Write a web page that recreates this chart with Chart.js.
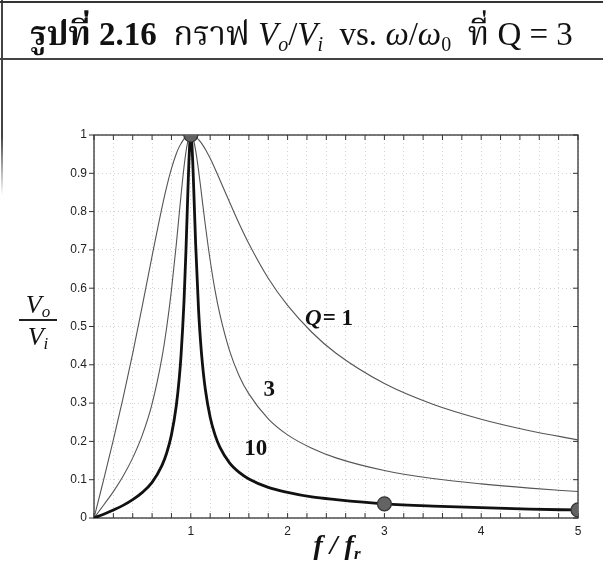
<!DOCTYPE html>
<html>
<head>
<meta charset="utf-8">
<script src="https://cdn.jsdelivr.net/npm/chart.js@4.4.1/dist/chart.umd.min.js"></script>
<style>
  html, body { margin: 0; padding: 0; background: #fff; }
  #page { position: relative; width: 603px; height: 565px; overflow: hidden; background: #fff; }
  #chart { position: absolute; left: 0; top: 0; }
  #title {
    position: absolute; left: 0; top: 1px; width: 603px; height: 55px;
    border-top: 2px solid #333; border-bottom: 2px solid #444;
    font-family: "Liberation Serif", "Noto Serif Thai", "Noto Sans Thai", serif;
    font-size: 33px; color: #111; text-align: center; line-height: 62px; white-space: nowrap;
  }
  #title sub { font-size: 20px; vertical-align: -6px; line-height: 0; }
  #leftRule { position: absolute; left: 1px; top: 0; width: 2px; height: 195px; background: linear-gradient(#444, #444 70%, rgba(80,80,80,0)); }
  #ylab {
    position: absolute; left: 17px; top: 291px; width: 42px; text-align: center;
    font-family: "Liberation Serif", serif; font-style: italic; font-size: 26px; color: #111; line-height: 27px;
  }
  #ylab .bar { height: 1.5px; background: #222; margin: 1px 2px 2px 2px; }
  #ylab sub { font-size: 17px; vertical-align: -4px; line-height: 0; }
  #xlab {
    position: absolute; left: 287px; top: 529px; width: 100px; text-align: center;
    font-family: "Liberation Serif", serif; font-style: italic; font-weight: bold; font-size: 28px; color: #111;
  }
  #xlab sub { font-size: 17px; vertical-align: -5px; line-height: 0; }
</style>
</head>
<body>
<div id="page">
  <canvas id="chart" width="603" height="565"></canvas>
  <div id="leftRule"></div>
  <div id="title"><b>รูปที่ 2.16</b>&nbsp; กราฟ <i>V<sub>o</sub></i>/<i>V<sub>i</sub></i>&nbsp; vs. <i>ω</i>/<i>ω</i><sub>0</sub>&nbsp; ที่ Q = 3</div>
  <div id="ylab"><div>V<sub>o</sub></div><div class="bar"></div><div>V<sub>i</sub></div></div>
  <div id="xlab">f / f<sub>r</sub></div>
</div>
<script>
// ratio f/fr (x values)
const freq = [0, 0.05, 0.1, 0.2, 0.3, 0.4, 0.5, 0.6, 0.7, 0.75, 0.8, 0.85, 0.88, 0.9, 0.93, 0.95, 0.97, 0.98, 0.99,
  1.0, 1.01, 1.02, 1.03, 1.05, 1.08, 1.1, 1.12, 1.15, 1.2, 1.25, 1.3, 1.4, 1.5, 1.6, 1.8, 2.0, 2.25, 2.5, 3.0, 3.5, 4.0, 4.5, 5.0];

// Vo/Vi for Q = 1
const gainQ1 = [0, 0.050, 0.100, 0.204, 0.313, 0.430, 0.555, 0.684, 0.808, 0.864, 0.912, 0.951, 0.969, 0.978, 0.990, 0.995, 0.998, 0.999, 1.000,
  1.000, 1.000, 0.999, 0.998, 0.995, 0.988, 0.982, 0.975, 0.963, 0.939, 0.912, 0.883, 0.825, 0.768, 0.716, 0.626, 0.555, 0.485, 0.430, 0.351, 0.297, 0.258, 0.228, 0.204];

// Vo/Vi for Q = 3
const gainQ3 = [0, 0.017, 0.034, 0.069, 0.109, 0.157, 0.217, 0.298, 0.416, 0.496, 0.595, 0.714, 0.793, 0.845, 0.917, 0.956, 0.984, 0.993, 0.998,
  1.000, 0.998, 0.993, 0.985, 0.960, 0.908, 0.868, 0.826, 0.765, 0.673, 0.595, 0.532, 0.437, 0.371, 0.324, 0.259, 0.217, 0.182, 0.157, 0.124, 0.103, 0.089, 0.078, 0.069];

// Vo/Vi for Q = 10
const gainQ10 = [0, 0.005, 0.010, 0.021, 0.033, 0.048, 0.067, 0.093, 0.136, 0.169, 0.217, 0.293, 0.363, 0.428, 0.567, 0.698, 0.854, 0.927, 0.980,
  1.000, 0.981, 0.930, 0.861, 0.716, 0.544, 0.464, 0.403, 0.336, 0.263, 0.217, 0.185, 0.144, 0.119, 0.102, 0.080, 0.067, 0.055, 0.048, 0.037, 0.031, 0.027, 0.023, 0.021];

// highlighted points
const markX = [1, 3, 5];
const markY = [1, 0.037, 0.021];

// curve labels
const labelText = ['Q', '3', '10'];
const labelX = [2.18, 1.81, 1.67];
const labelY = [0.52, 0.335, 0.18];

const xTickLabels = ['1', '2', '3', '4', '5'];
const yTickLabels = ['0', '0.1', '0.2', '0.3', '0.4', '0.5', '0.6', '0.7', '0.8', '0.9', '1'];

function points(ys){ return freq.map((f, i) => ({ x: f, y: ys[i] })); }

// frame with matlab style ticks, plus curve labels
const framePlugin = {
  id: 'frame',
  beforeDatasetsDraw(chart){
    const { ctx, chartArea: a, scales: { x, y } } = chart;
    ctx.save();
    ctx.strokeStyle = '#333';
    ctx.lineWidth = 1.3;
    ctx.strokeRect(a.left, a.top, a.right - a.left, a.bottom - a.top);
    ctx.lineWidth = 1;
    ctx.beginPath();
    x.ticks.forEach(t => {
      const px = x.getPixelForValue(t.value);
      ctx.moveTo(px, a.bottom); ctx.lineTo(px, a.bottom - 5);
      ctx.moveTo(px, a.top); ctx.lineTo(px, a.top + 5);
    });
    y.ticks.forEach(t => {
      const py = y.getPixelForValue(t.value);
      ctx.moveTo(a.left - 5, py); ctx.lineTo(a.left, py);
      ctx.moveTo(a.right, py); ctx.lineTo(a.right - 5, py);
    });
    ctx.stroke();
    ctx.restore();
  },
  afterDatasetsDraw(chart){
    const { ctx, scales: { x, y } } = chart;
    ctx.save();
    ctx.fillStyle = '#111';
    ctx.textBaseline = 'middle';
    // "Q = 1"
    let px = x.getPixelForValue(labelX[0]), py = y.getPixelForValue(labelY[0]);
    ctx.font = 'italic bold 23px "Liberation Serif"';
    ctx.textAlign = 'left';
    ctx.fillText(labelText[0], px, py);
    const w = ctx.measureText(labelText[0]).width;
    ctx.font = 'bold 23px "Liberation Serif"';
    ctx.fillText('= 1', px + w + 1, py);
    ctx.textAlign = 'center';
    for(let i = 1; i < labelText.length; i++){
      ctx.fillText(labelText[i], x.getPixelForValue(labelX[i]), y.getPixelForValue(labelY[i]));
    }
    ctx.restore();
  }
};

const tickFont = { family: '"Liberation Sans", Arial, sans-serif', size: 12 };

new Chart(document.getElementById('chart'), {
  type: 'line',
  data: {
    datasets: [
      { type: 'scatter', data: markX.map((v, i) => ({ x: v, y: markY[i] })), pointRadius: 7, pointHoverRadius: 7,
        backgroundColor: '#636363', borderColor: '#333', borderWidth: 1.2, order: 0 },
      { data: points(gainQ10), borderColor: '#111', borderWidth: 2.8, pointRadius: 0, cubicInterpolationMode: 'monotone', order: 1 },
      { data: points(gainQ3), borderColor: '#555', borderWidth: 1.1, pointRadius: 0, cubicInterpolationMode: 'monotone', order: 2 },
      { data: points(gainQ1), borderColor: '#555', borderWidth: 1.1, pointRadius: 0, cubicInterpolationMode: 'monotone', order: 3 }
    ]
  },
  options: {
    responsive: false,
    animation: false,
    events: [],
    layout: { padding: { left: 56, right: 25, top: 135, bottom: 17 } },
    plugins: { legend: { display: false }, tooltip: { enabled: false } },
    scales: {
      x: {
        type: 'linear', min: 0, max: 5,
        afterFit(s){ s.height = 30; },
        grid: { color: '#d2d2d2', lineWidth: 1, drawTicks: false },
        border: { display: false, dash: [1, 3] },
        ticks: {
          stepSize: 0.2, autoSkip: false, maxRotation: 0, padding: 6, color: '#222', font: tickFont,
          callback(v){
            const r = Math.round(v);
            return (Math.abs(v - r) < 1e-6 && r >= 1) ? xTickLabels[r - 1] : '';
          }
        }
      },
      y: {
        type: 'linear', min: 0, max: 1,
        afterFit(s){ s.width = 38; },
        grid: { color: '#d2d2d2', lineWidth: 1, drawTicks: false },
        border: { display: false, dash: [1, 3] },
        ticks: {
          stepSize: 0.1, padding: 7, color: '#222', font: tickFont,
          callback(v){ return yTickLabels[Math.round(v * 10)]; }
        }
      }
    }
  },
  plugins: [framePlugin]
});
</script>
</body>
</html>
